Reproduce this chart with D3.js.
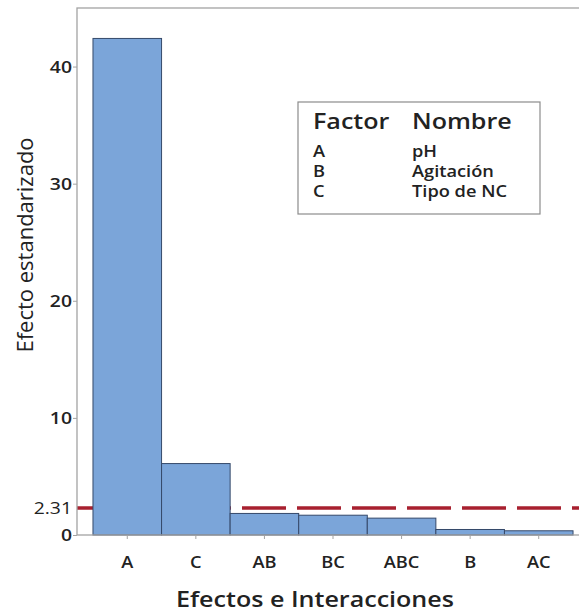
<!DOCTYPE html>
<html>
<head>
<meta charset="utf-8">
<script src="https://cdn.jsdelivr.net/npm/d3@7"></script>
<style>
  html, body { margin: 0; padding: 0; background: #ffffff; }
  svg { display: block; }
  text { font-family: "Open Sans", "Noto Sans", sans-serif; fill: #222; }
</style>
</head>
<body>
<div id="chart"></div>
<script>
// ---- data ----
const categories = ["A", "C", "AB", "BC", "ABC", "B", "AC"];
const effects = [42.4, 6.1, 1.84, 1.69, 1.44, 0.47, 0.36];
const yTicks = [0, 10, 20, 30, 40];
const refValue = 2.31;
const legendFactors = ["A", "B", "C"];
const legendNames = ["pH", "Agitación", "Tipo de NC"];
const legendHeader = ["Factor", "Nombre"];
const xTitle = "Efectos e Interacciones";
const yTitle = "Efecto estandarizado";

// ---- layout ----
const W = 579, H = 615;
const plot = { left: 77, right: 589, top: 8, bottom: 535 };
const sx = 1.14; // horizontal text stretch of the reference

const svg = d3.select("#chart").append("svg")
  .attr("width", W).attr("height", H);

const x = d3.scaleBand()
  .domain(categories)
  .range([plot.left, plot.right])
  .paddingInner(0)
  .paddingOuter(0.233);

const y = d3.scaleLinear()
  .domain([0, 45])
  .range([plot.bottom, plot.top]);

// reference dashed line (behind bars)
svg.append("line")
  .attr("x1", plot.left).attr("x2", plot.right)
  .attr("y1", y(refValue)).attr("y2", y(refValue))
  .attr("stroke", "#a8202f")
  .attr("stroke-width", 3.5)
  .attr("stroke-dasharray", "44,11");

// bars
svg.append("g").selectAll("rect")
  .data(categories.map((c, i) => ({ c, v: effects[i] })))
  .join("rect")
  .attr("x", d => x(d.c))
  .attr("width", x.bandwidth())
  .attr("y", d => y(d.v))
  .attr("height", d => y(0) - y(d.v))
  .attr("fill", "#7ba5d9")
  .attr("stroke", "#35496a")
  .attr("stroke-width", 1);

// frame
svg.append("rect")
  .attr("x", plot.left).attr("y", plot.top)
  .attr("width", plot.right - plot.left)
  .attr("height", plot.bottom - plot.top)
  .attr("fill", "none")
  .attr("stroke", "#a3a3a3")
  .attr("stroke-width", 1.3);

// left axis
const gy = svg.append("g")
  .attr("transform", `translate(${plot.left},0)`)
  .call(d3.axisLeft(y).tickValues(yTicks).tickSize(4).tickFormat(d3.format("d")));
gy.select(".domain").remove();
gy.selectAll(".tick line").attr("stroke", "#a3a3a3");
gy.selectAll(".tick text")
  .attr("x", 0).attr("dy", "0.35em")
  .attr("transform", `translate(-5,0) scale(${sx},1)`)
  .style("font-size", "17px").style("font-weight", 600)
  .style("font-family", "'Open Sans', sans-serif")
  .attr("fill", "#222");

// reference label
const gr = svg.append("g")
  .attr("transform", `translate(${plot.left},0)`)
  .call(d3.axisLeft(y).tickValues([refValue]).tickSize(0).tickFormat(d => d));
gr.select(".domain").remove();
gr.selectAll(".tick text")
  .attr("x", 0).attr("dy", "0.35em")
  .attr("transform", `translate(-5,0) scale(${sx},1)`)
  .style("font-size", "17px").style("font-weight", 500)
  .style("font-family", "'Open Sans', sans-serif")
  .attr("fill", "#9e2236");

// bottom axis
const gx = svg.append("g")
  .attr("transform", `translate(0,${plot.bottom})`)
  .call(d3.axisBottom(x).tickSize(4));
gx.select(".domain").remove();
gx.selectAll(".tick line").attr("stroke", "#a3a3a3");
gx.selectAll(".tick text")
  .attr("y", 0).attr("dy", 0)
  .attr("transform", `translate(0,33) scale(${sx},1)`)
  .style("font-size", "16px").style("font-weight", 600)
  .style("font-family", "'Open Sans', sans-serif")
  .attr("fill", "#222");

// axis titles
svg.append("text")
  .attr("transform", `translate(315,607) scale(${sx},1)`)
  .attr("text-anchor", "middle")
  .style("font-size", "22px").style("font-weight", 600)
  .text(xTitle);

svg.append("text")
  .attr("transform", "translate(33,245) rotate(-90)")
  .attr("text-anchor", "middle")
  .style("font-size", "22px").style("font-weight", 500)
  .text(yTitle);

// legend table
const lg = svg.append("g");
lg.append("rect")
  .attr("x", 298).attr("y", 102).attr("width", 242).attr("height", 112)
  .attr("fill", "#fff").attr("stroke", "#8c8c8c").attr("stroke-width", 1.2);
const colX = [313, 412];
legendHeader.forEach((t, i) => {
  lg.append("text")
    .attr("transform", `translate(${colX[i]},129) scale(${sx},1)`)
    .style("font-size", "22px").style("font-weight", 600)
    .text(t);
});
legendFactors.forEach((f, i) => {
  const by = 157 + i * 20;
  lg.append("text")
    .attr("transform", `translate(${colX[0]},${by}) scale(${sx},1)`)
    .style("font-size", "16px").style("font-weight", 600)
    .text(f);
  lg.append("text")
    .attr("transform", `translate(${colX[1]},${by}) scale(${sx},1)`)
    .style("font-size", "16px").style("font-weight", 600)
    .text(legendNames[i]);
});
</script>
</body>
</html>
